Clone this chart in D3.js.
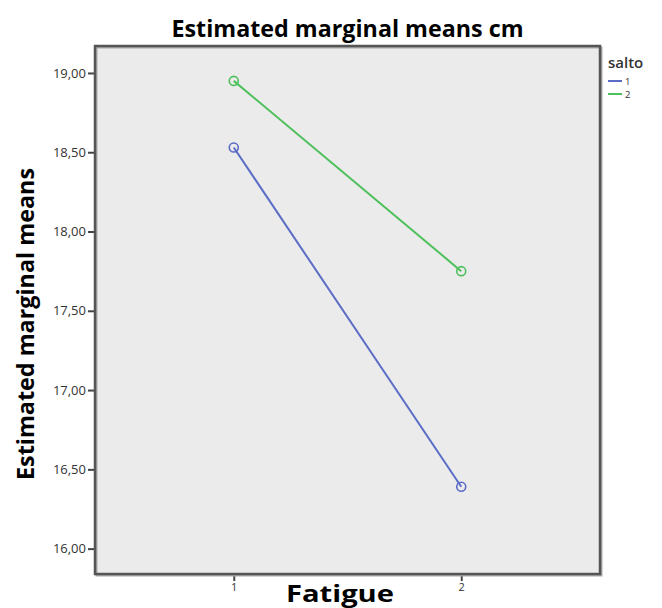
<!DOCTYPE html>
<html>
<head>
<meta charset="utf-8">
<script src="https://cdn.jsdelivr.net/npm/d3@7"></script>
<style>
  body { margin: 0; background: #fff; }
  text { font-family: "Open Sans", "DejaVu Sans", sans-serif; }
</style>
</head>
<body>
<div id="chart"></div>
<script>
// data
var fatigue = ["1", "2"];
var salto = ["1", "2"];
var means1 = [18.53, 16.39];
var means2 = [18.95, 17.75];
var yTicks = [16.0, 16.5, 17.0, 17.5, 18.0, 18.5, 19.0];
var colors = ["#5a6cc6", "#4dc05b"];

var W = 662, H = 608;
var margin = {top: 46, right: 62, bottom: 34, left: 95},
    width = W - margin.left - margin.right,
    height = H - margin.top - margin.bottom;

var svg = d3.select("#chart")
  .append("svg")
    .attr("width", W)
    .attr("height", H);

var g = svg.append("g")
    .attr("transform", "translate(" + margin.left + "," + margin.top + ")");

// plot background
g.append("rect")
  .attr("width", width)
  .attr("height", height)
  .attr("fill", "#ebebeb");

var x = d3.scalePoint()
  .domain(fatigue)
  .range([0, width])
  .padding(0.61);

var y = d3.scaleLinear()
  .domain([15.84, 19.17])
  .range([height, 0]);

// Y axis
var yAxis = g.append("g")
  .call(d3.axisLeft(y).tickValues(yTicks).tickSize(7).tickSizeOuter(0)
    .tickFormat(function(d) { return d3.format(".2f")(d).replace(".", ","); }));
yAxis.select(".domain").remove();
yAxis.selectAll(".tick line").attr("stroke", "#444").attr("stroke-width", 2);
yAxis.selectAll(".tick text")
  .attr("x", -9)
  .attr("fill", "#333")
  .style("font-size", "13px");

// X axis
var xAxis = g.append("g")
  .attr("transform", "translate(0," + height + ")")
  .call(d3.axisBottom(x).tickSize(7).tickSizeOuter(0));
xAxis.select(".domain").remove();
xAxis.selectAll(".tick line").attr("stroke", "#444").attr("stroke-width", 2);
xAxis.selectAll(".tick text")
  .attr("y", 9)
  .attr("fill", "#333")
  .style("font-size", "11px");

// frame with a soft shadow
g.append("rect")
  .attr("x", 1.5).attr("y", 1.5)
  .attr("width", width)
  .attr("height", height)
  .attr("fill", "none")
  .attr("stroke", "#aaa")
  .attr("stroke-width", 2);
g.append("rect")
  .attr("width", width)
  .attr("height", height)
  .attr("fill", "none")
  .attr("stroke", "#555")
  .attr("stroke-width", 2.5);

// lines + markers
var series = [means1, means2];
var line = d3.line()
  .x(function(d, i) { return x(fatigue[i]); })
  .y(function(d) { return y(d); });

series.forEach(function(s, k) {
  g.append("path")
    .datum(s)
    .attr("d", line)
    .attr("fill", "none")
    .attr("stroke", colors[k])
    .attr("stroke-width", 2);
  g.selectAll(".pt" + k)
    .data(s)
    .enter()
    .append("circle")
      .attr("cx", function(d, i) { return x(fatigue[i]); })
      .attr("cy", function(d) { return y(d); })
      .attr("r", 4.5)
      .attr("fill", "none")
      .attr("stroke", colors[k])
      .attr("stroke-width", 1.6);
});

// title
svg.append("text")
  .attr("x", margin.left + width / 2)
  .attr("y", 37)
  .attr("text-anchor", "middle")
  .attr("textLength", 352)
  .attr("lengthAdjust", "spacingAndGlyphs")
  .style("font-size", "23px")
  .style("font-weight", "bold")
  .text("Estimated marginal means cm");

// x label
svg.append("text")
  .attr("x", 340)
  .attr("y", 602)
  .attr("text-anchor", "middle")
  .attr("textLength", 108)
  .attr("lengthAdjust", "spacingAndGlyphs")
  .style("font-size", "23px")
  .style("font-weight", "bold")
  .text("Fatigue");

// y label
svg.append("text")
  .attr("transform", "rotate(-90)")
  .attr("x", -324)
  .attr("y", 34)
  .attr("text-anchor", "middle")
  .attr("textLength", 312)
  .attr("lengthAdjust", "spacingAndGlyphs")
  .style("font-size", "23px")
  .style("font-weight", "bold")
  .text("Estimated marginal means");

// legend
var leg = svg.append("g").attr("transform", "translate(608,0)");
leg.append("text")
  .attr("x", 0)
  .attr("y", 68)
  .style("font-size", "15px")
  .style("font-weight", "600")
  .attr("fill", "#333")
  .text("salto");
salto.forEach(function(s, k) {
  var yy = 81 + k * 13;
  leg.append("line")
    .attr("x1", 0).attr("x2", 14)
    .attr("y1", yy).attr("y2", yy)
    .attr("stroke", colors[k])
    .attr("stroke-width", 2);
  leg.append("text")
    .attr("x", 17)
    .attr("y", yy + 3.5)
    .style("font-size", "9.5px")
    .attr("fill", "#333")
    .text(s);
});
</script>
</body>
</html>
